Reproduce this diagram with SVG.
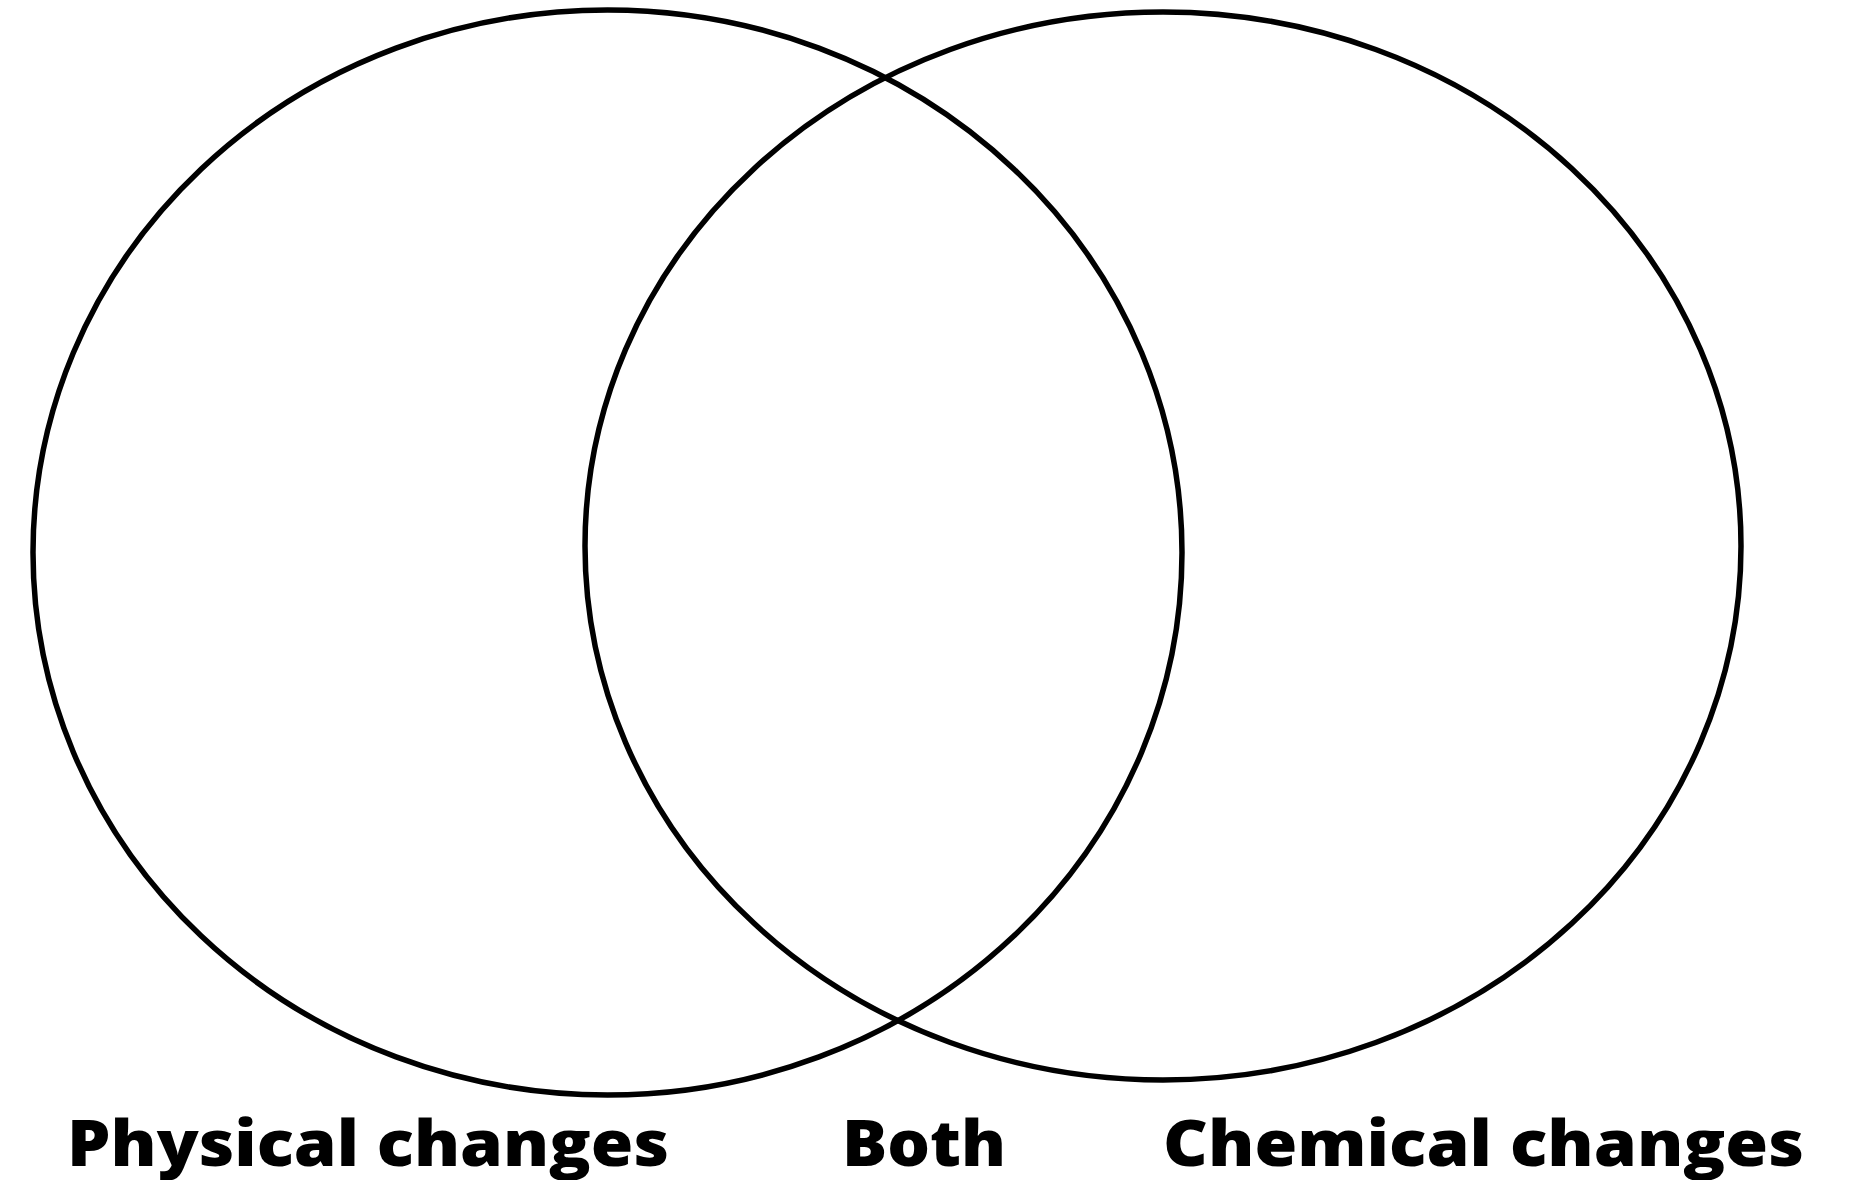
<svg xmlns="http://www.w3.org/2000/svg" width="1852" height="1180" viewBox="0 0 1852 1180">
<style>
.ring{fill:none;stroke:#000;stroke-width:5.5}
.lbl{font-family:"Open Sans","Liberation Sans",sans-serif;font-weight:800;font-size:64px;fill:#000}
</style>
<rect width="1852" height="1180" fill="#fff"/>
<g id="physical">
<ellipse class="ring" cx="607.5" cy="552.5" rx="574.5" ry="542.5"/>
<text class="lbl" x="67" y="1166" textLength="602" lengthAdjust="spacingAndGlyphs">Physical changes</text>
</g>
<g id="chemical">
<ellipse class="ring" cx="1163" cy="546" rx="578" ry="534"/>
<text class="lbl" x="1163" y="1166" textLength="641" lengthAdjust="spacingAndGlyphs">Chemical changes</text>
</g>
<g id="both">
<text class="lbl" x="842" y="1166" textLength="164" lengthAdjust="spacingAndGlyphs">Both</text>
</g>
<g id="connectors"></g>
</svg>
